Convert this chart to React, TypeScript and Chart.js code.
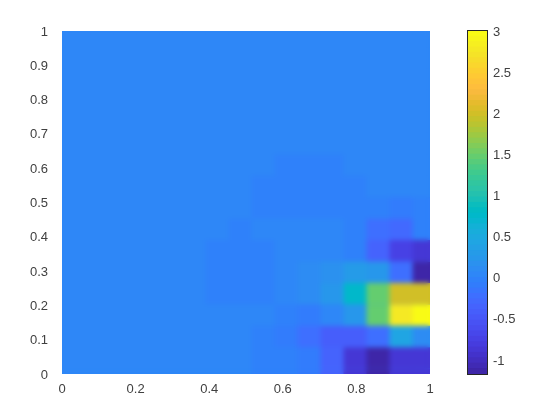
import React, { useEffect, useRef } from "react";
import { Chart, registerables } from "chart.js";

Chart.register(...registerables);

const xTicks = [0, 0.2, 0.4, 0.6, 0.8, 1];
const yTicks = [0, 0.1, 0.2, 0.3, 0.4, 0.5, 0.6, 0.7, 0.8, 0.9, 1];
const barTicks = [-1, -0.5, 0, 0.5, 1, 1.5, 2, 2.5, 3];
const valueMin = -1.17;
const valueMax = 3;
const gridStep = 1 / 16;

const B = 0.03;
const D = -0.03;
// rows listed top to bottom, columns left to right
const cellValues: number[][] = [
  [B, B, B, B, B, B, B, B, B, B, B, B, B, B, B, B, B],
  [B, B, B, B, B, B, B, B, B, B, B, B, B, B, B, B, B],
  [B, B, B, B, B, B, B, B, B, B, B, B, B, B, B, B, B],
  [B, B, B, B, B, B, B, B, B, B, B, B, B, B, B, B, B],
  [B, B, B, B, B, B, B, B, B, B, B, B, B, B, B, B, B],
  [B, B, B, B, B, B, B, B, B, B, B, B, B, B, B, B, B],
  [B, B, B, B, B, B, B, B, B, B, B, B, B, B, B, B, B],
  [B, B, B, B, B, B, B, B, B, B, D, D, D, B, B, B, B],
  [B, B, B, B, B, B, B, B, B, D, D, D, D, D, B, B, B],
  [B, B, B, B, B, B, B, B, B, D, D, D, D, D, D, -0.08, 0.0],
  [B, B, B, B, B, B, B, B, D, B, B, B, B, -0.05, -0.25, -0.32, 0.0],
  [B, B, B, B, B, B, B, D, D, D, B, B, 0.03, 0.0, -0.33, -0.75, -0.9],
  [B, B, B, B, B, B, B, D, D, D, 0.05, 0.1, 0.17, 0.27, 0.25, -0.2, -1.12],
  [B, B, B, B, B, B, B, D, D, D, 0.05, 0.1, 0.2, 0.75, 1.45, 1.97, 1.97],
  [B, B, B, B, B, B, B, B, B, B, -0.05, -0.12, 0.03, 0.25, 1.45, 2.75, 3.0],
  [B, B, B, B, B, B, B, B, B, D, -0.08, -0.2, -0.42, -0.42, -0.2, 0.4, 0.1],
  [B, B, B, B, B, B, B, B, B, D, -0.03, -0.08, -0.35, -0.85, -1.13, -0.9, -0.9],
  [B, B, B, B, B, B, B, B, B, D, -0.03, -0.08, -0.35, -0.85, -1.13, -0.9, -0.9],
];

const parula = [
  [0.2422, 0.1504, 0.6603], [0.2504, 0.165, 0.7076], [0.2578, 0.1818, 0.7511], [0.2647, 0.1978, 0.7952],
  [0.2706, 0.2147, 0.8364], [0.2751, 0.2342, 0.871], [0.2783, 0.2559, 0.8991], [0.2803, 0.2782, 0.9221],
  [0.2813, 0.3006, 0.9414], [0.281, 0.3228, 0.9579], [0.2795, 0.3447, 0.9717], [0.276, 0.3667, 0.9829],
  [0.2699, 0.3892, 0.9906], [0.2602, 0.4123, 0.9952], [0.244, 0.4358, 0.9988], [0.2206, 0.4603, 0.9973],
  [0.1963, 0.4847, 0.9892], [0.1834, 0.5074, 0.9798], [0.1786, 0.5289, 0.9682], [0.1764, 0.5499, 0.952],
  [0.1687, 0.5703, 0.9359], [0.154, 0.5902, 0.9218], [0.146, 0.6091, 0.9079], [0.138, 0.6276, 0.8973],
  [0.1248, 0.6459, 0.8883], [0.1113, 0.6635, 0.8763], [0.0952, 0.6798, 0.8598], [0.0689, 0.6948, 0.8394],
  [0.0297, 0.7082, 0.8163], [0.0036, 0.7203, 0.7917], [0.0067, 0.7312, 0.766], [0.0433, 0.7411, 0.7394],
  [0.0964, 0.75, 0.712], [0.1408, 0.7584, 0.6842], [0.1717, 0.767, 0.6554], [0.1938, 0.7758, 0.6251],
  [0.2161, 0.7843, 0.5923], [0.247, 0.7918, 0.5567], [0.2906, 0.7973, 0.5188], [0.3406, 0.8008, 0.4789],
  [0.3909, 0.8029, 0.4354], [0.4456, 0.8024, 0.3909], [0.5044, 0.7993, 0.348], [0.5616, 0.7942, 0.3045],
  [0.6174, 0.7876, 0.2612], [0.672, 0.7793, 0.2227], [0.7242, 0.7698, 0.191], [0.7738, 0.7598, 0.1646],
  [0.8203, 0.7498, 0.1535], [0.8634, 0.7406, 0.1596], [0.9035, 0.733, 0.1774], [0.9393, 0.7288, 0.21],
  [0.9728, 0.7298, 0.2394], [0.9956, 0.7434, 0.2371], [0.997, 0.7659, 0.2199], [0.9952, 0.7893, 0.2028],
  [0.9892, 0.8136, 0.1885], [0.9786, 0.8386, 0.1766], [0.9676, 0.8639, 0.1643], [0.961, 0.889, 0.1537],
  [0.9597, 0.9135, 0.1423], [0.9628, 0.9373, 0.1265], [0.9691, 0.9606, 0.1064], [0.9769, 0.9839, 0.0805],
];

const levelColor = (i: number) => {
  const c = parula[Math.max(0, Math.min(parula.length - 1, i))];
  return `rgb(${Math.round(c[0] * 255)},${Math.round(c[1] * 255)},${Math.round(c[2] * 255)})`;
};
const valueColor = (v: number) =>
  levelColor(Math.floor(((v - valueMin) / (valueMax - valueMin)) * parula.length));

const FONT = { family: "'Liberation Sans', Arial, sans-serif", size: 13 };
const TEXT = "#404040";

// Softens the block edges of the cells the way the reference's shading does.
const softenCells = {
  id: "softenCells",
  beforeDatasetsDraw(chart: any) {
    const { ctx, chartArea: a } = chart;
    ctx.save();
    ctx.fillStyle = valueColor(B);
    ctx.fillRect(a.left, a.top, a.width, a.height);
    ctx.restore();
  },
  afterDatasetsDraw(chart: any) {
    const { ctx, chartArea: a, canvas } = chart;
    const off = document.createElement("canvas");
    off.width = Math.round(a.width);
    off.height = Math.round(a.height);
    off.getContext("2d")!.drawImage(canvas, -a.left, -a.top);
    ctx.save();
    ctx.beginPath();
    ctx.rect(a.left, a.top, a.width, a.height);
    ctx.clip();
    ctx.filter = "blur(2.4px)";
    ctx.drawImage(off, a.left, a.top);
    ctx.restore();
  },
};

const boxOutline = {
  id: "boxOutline",
  afterDraw(chart: any) {
    const { ctx, chartArea: a } = chart;
    ctx.save();
    ctx.strokeStyle = "#262626";
    ctx.lineWidth = 1;
    ctx.strokeRect(a.left - 0.5, a.top - 0.5, a.width + 1, a.height + 1);
    ctx.restore();
  },
};

export default function App() {
  const heatRef = useRef<HTMLCanvasElement>(null);
  const barRef = useRef<HTMLCanvasElement>(null);

  useEffect(() => {
    const rows = cellValues.length;
    const heatSets = cellValues.map((row, ri) => {
      const k = rows - 2 - ri;
      return {
        data: row.map((_, ci) => ({
          x: (ci - 0.25) * gridStep,
          y: [(k + 0.25) * gridStep, (k + 1.25) * gridStep],
        })),
        backgroundColor: row.map((v) => valueColor(v)),
        borderWidth: 0,
        grouped: false,
        barPercentage: 1.02,
        categoryPercentage: 1,
      };
    });

    const heat = new Chart(heatRef.current!, {
      type: "bar",
      data: { datasets: heatSets as any },
      plugins: [softenCells],
      options: {
        animation: false,
        responsive: false,
        layout: { padding: { top: 31, right: 130, left: 0, bottom: 0 } },
        plugins: { legend: { display: false }, tooltip: { enabled: false } },
        scales: {
          x: {
            type: "linear",
            min: 0,
            max: 1,
            offset: false,
            grid: { display: false, offset: false },
            border: { display: false },
            afterBuildTicks: (s: any) => { s.ticks = xTicks.map((value) => ({ value })); },
            afterFit: (s: any) => { s.height = 46; },
            ticks: { color: TEXT, font: FONT, padding: 0, maxRotation: 0, autoSkip: false, callback: (v: any) => String(v) },
          },
          y: {
            type: "linear",
            min: 0,
            max: 1,
            grid: { display: false },
            border: { display: false },
            afterBuildTicks: (s: any) => { s.ticks = yTicks.map((value) => ({ value })); },
            afterFit: (s: any) => { s.width = 62; },
            ticks: { color: TEXT, font: FONT, padding: 6, labelOffset: 1, autoSkip: false, callback: (v: any) => String(v) },
          },
        },
      } as any,
    });

    const levelStep = (valueMax - valueMin) / parula.length;
    const bar = new Chart(barRef.current!, {
      type: "bar",
      data: {
        labels: ["colour"],
        datasets: parula.map((_, i) => ({
          data: [[valueMin + i * levelStep, valueMin + (i + 1.05) * levelStep]],
          backgroundColor: levelColor(i),
          borderWidth: 0,
          grouped: false,
          barPercentage: 1,
          categoryPercentage: 1,
        })) as any,
      },
      plugins: [boxOutline],
      options: {
        animation: false,
        responsive: false,
        layout: { padding: { left: 468, top: 31, right: 0, bottom: 46 } },
        plugins: { legend: { display: false }, tooltip: { enabled: false } },
        scales: {
          x: { display: false },
          y: {
            position: "right",
            min: valueMin,
            max: valueMax,
            grid: { drawOnChartArea: false, tickLength: -3, color: "#262626" },
            border: { display: false },
            afterBuildTicks: (s: any) => { s.ticks = barTicks.map((value) => ({ value })); },
            afterFit: (s: any) => { s.width = 73; },
            ticks: { color: TEXT, font: FONT, padding: 9, labelOffset: 1, autoSkip: false, callback: (v: any) => String(v) },
          },
        },
      } as any,
    });

    return () => {
      heat.destroy();
      bar.destroy();
    };
  }, []);

  return (
    <div style={{ position: "fixed", left: 0, top: 0, width: 560, height: 420, background: "#fff" }}>
      <canvas ref={heatRef} width={560} height={420} style={{ position: "absolute", left: 0, top: 0 }} />
      <canvas ref={barRef} width={560} height={420} style={{ position: "absolute", left: 0, top: 0 }} />
    </div>
  );
}
